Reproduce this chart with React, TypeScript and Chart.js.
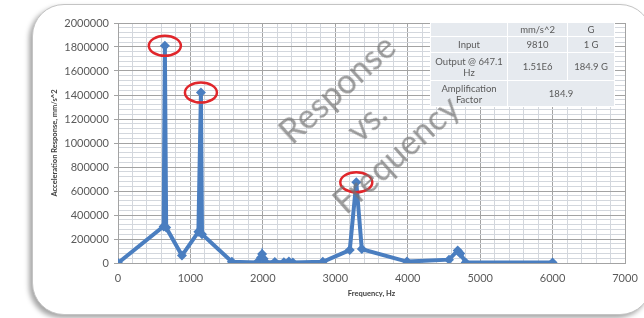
import React, { useEffect, useRef } from "react";
import { Chart, registerables } from "chart.js";

Chart.register(...registerables);

// ---- data ----
const frequencyHz: number[] = [
  0, 630, 647, 665, 883, 1110, 1145, 1160, 1572, 1920, 1975, 1990, 2010, 2040,
  2165, 2290, 2359, 2414, 2828, 3200, 3290, 3366, 3990, 4570, 4690, 4725, 4800, 6000,
];
const accelResponse: number[] = [
  0, 305000, 1810000, 295000, 62000, 260000, 1420000, 240000, 10000, 5000, 45000, 75000, 35000, 5000,
  8000, 6000, 12000, 5000, 10000, 108000, 672000, 116000, 12000, 28000, 105000, 80000, 5000, 5000,
];
const highlightedPeaksHz: number[] = [647, 1145, 3290];

const tableHeader: string[] = ["", "mm/s^2", "G"];
const tableInput: string[] = ["Input", "9810", "1 G"];
const tableOutput: string[] = ["Output @ 647.1 Hz", "1.51E6", "184.9 G"];
const tableAmplification: string[] = ["Amplification Factor", "184.9"];

const xTitle = "Frequency, Hz";
const yTitle = "Acceleration Response, mm/s^2";
const watermarkLines: string[] = ["Response", "vs.", "Frequency"];

const BLUE = "#4a7ec0";
const MAJOR = "#a3a3a3";
const MINOR = "#d3d7dd";
const TEXT = "#5a5a5a";

const peakCircles = {
  id: "peakCircles",
  afterDatasetsDraw(chart: any) {
    const { ctx, scales } = chart;
    ctx.save();
    ctx.strokeStyle = "#e0262b";
    ctx.lineWidth = 2.5;
    highlightedPeaksHz.forEach((f) => {
      const i = frequencyHz.indexOf(f);
      if (i < 0) return;
      const cx = scales.x.getPixelForValue(frequencyHz[i]);
      const cy = scales.y.getPixelForValue(accelResponse[i]);
      ctx.beginPath();
      ctx.ellipse(cx, cy, 16, 10, 0, 0, Math.PI * 2);
      ctx.stroke();
    });
    ctx.restore();
  },
};

export default function App() {
  const ref = useRef<HTMLCanvasElement | null>(null);

  useEffect(() => {
    if (!ref.current) return;
    const tickFont = { family: "Lato", size: 11 };
    const chart = new Chart(ref.current, {
      type: "line",
      data: {
        datasets: [
          {
            data: frequencyHz.map((f, i) => ({ x: f, y: accelResponse[i] })),
            borderColor: BLUE,
            backgroundColor: BLUE,
            borderWidth: 4,
            pointStyle: "rectRot",
            pointRadius: 5,
            pointBorderWidth: 0,
            tension: 0,
          },
        ],
      },
      options: {
        responsive: false,
        animation: false,
        layout: { padding: { left: 40, right: 19, top: 23, bottom: 16 } },
        plugins: { legend: { display: false }, tooltip: { enabled: false } },
        scales: {
          x: {
            type: "linear",
            min: 0,
            max: 7000,
            afterFit: (s: any) => {
              s.height = 39;
            },
            ticks: {
              stepSize: 200,
              autoSkip: false,
              maxRotation: 0,
              padding: 5,
              color: TEXT,
              font: tickFont,
              callback: (v: any) => (Number(v) % 1000 === 0 ? String(v) : ""),
            },
            grid: {
              color: (c: any) => (c.tick && c.tick.value % 1000 === 0 ? MAJOR : MINOR),
              tickLength: 4,
              tickColor: "rgba(0,0,0,0)",
            },
            border: { color: MAJOR },
            title: {
              display: true,
              text: xTitle,
              color: "#404040",
              font: { family: "Lato", size: 7.5, weight: "bold" },
              padding: { top: 2, bottom: 4 },
            },
          },
          y: {
            type: "linear",
            min: 0,
            max: 2000000,
            afterFit: (s: any) => {
              s.width = 78;
            },
            ticks: {
              stepSize: 40000,
              autoSkip: false,
              padding: 5,
              color: TEXT,
              font: tickFont,
              callback: (v: any) => (Number(v) % 200000 === 0 ? String(v) : ""),
            },
            grid: {
              color: (c: any) => (c.tick && c.tick.value % 200000 === 0 ? MAJOR : MINOR),
              tickLength: 4,
              tickColor: (c: any) => (c.tick && c.tick.value % 200000 === 0 ? MAJOR : "rgba(0,0,0,0)"),
            },
            border: { color: MAJOR },
            title: {
              display: true,
              text: yTitle,
              color: "#404040",
              font: { family: "Lato", size: 7.5, weight: "bold" },
              padding: { top: 10, bottom: 2 },
            },
          },
        },
      },
      plugins: [peakCircles],
    } as any);
    return () => chart.destroy();
  }, []);

  const cell: React.CSSProperties = {
    background: "#e6eaef",
    border: "1.5px solid #ffffff",
    textAlign: "center",
    verticalAlign: "middle",
    padding: "0 2px",
    lineHeight: "11px",
  };

  return (
    <div
      style={{
        position: "fixed",
        left: 0,
        top: 0,
        width: 644,
        height: 318,
        overflow: "hidden",
        background: "#ffffff",
      }}
    >
      <div
        style={{
          position: "absolute",
          left: 32,
          top: 4,
          width: 618,
          height: 309,
          borderRadius: 32,
          border: "1px solid #c4c4c4",
          boxShadow: "-3px 3px 5px rgba(0,0,0,0.35)",
          background: "#ffffff",
        }}
      />
      <canvas
        ref={ref}
        width={644}
        height={318}
        style={{ position: "absolute", left: 0, top: 0, width: 644, height: 318 }}
      />
      <table
        style={{
          position: "absolute",
          left: 430,
          top: 22,
          width: 185,
          borderCollapse: "collapse",
          fontFamily: "Lato",
          fontSize: 9.5,
          color: TEXT,
        }}
      >
        <tbody>
          <tr style={{ height: 14 }}>
            {tableHeader.map((t, i) => (
              <td key={i} style={{ ...cell, width: i === 0 ? 76 : i === 1 ? 60 : 46 }}>
                {t}
              </td>
            ))}
          </tr>
          <tr style={{ height: 16 }}>
            {tableInput.map((t, i) => (
              <td key={i} style={cell}>
                {t}
              </td>
            ))}
          </tr>
          <tr style={{ height: 28 }}>
            {tableOutput.map((t, i) => (
              <td key={i} style={cell}>
                {t}
              </td>
            ))}
          </tr>
          <tr style={{ height: 26 }}>
            <td style={cell}>{tableAmplification[0]}</td>
            <td style={cell} colSpan={2}>
              {tableAmplification[1]}
            </td>
          </tr>
        </tbody>
      </table>
      <div
        style={{
          position: "absolute",
          left: 366,
          top: 121,
          transform: "translate(-50%, -50%) rotate(-42deg)",
          fontFamily: "Lato",
          fontSize: 34,
          lineHeight: "44px",
          color: "rgba(115,115,115,0.7)",
          whiteSpace: "pre",
          textAlign: "center",
          pointerEvents: "none",
        }}
      >
        {watermarkLines.join("\n")}
      </div>
    </div>
  );
}
